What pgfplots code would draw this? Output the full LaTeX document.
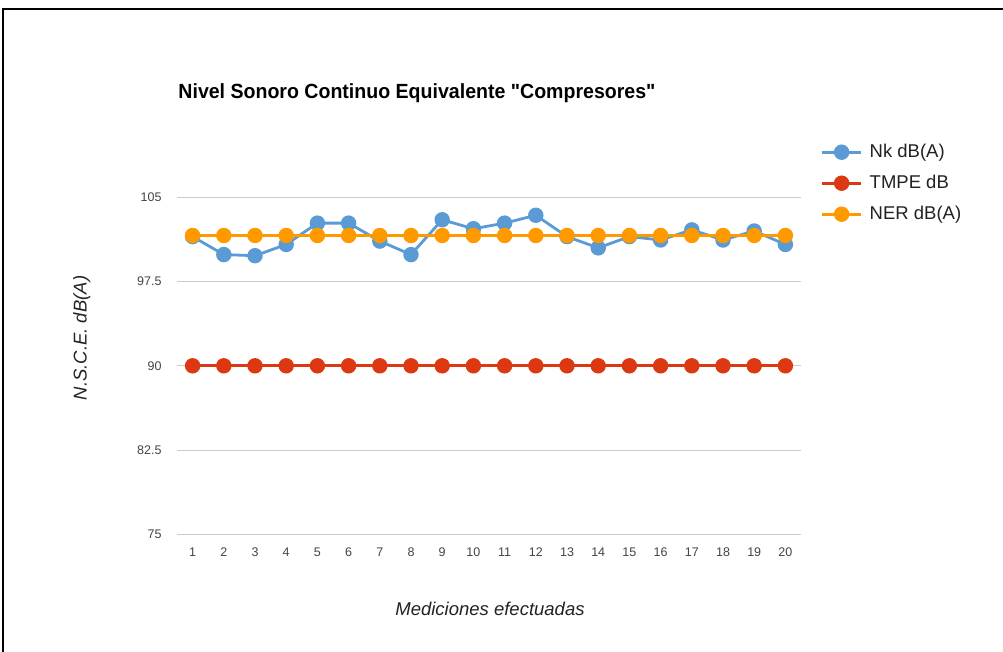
\documentclass[border=0pt]{standalone}
\usepackage{pgfplots}
\pgfplotsset{compat=1.18}
\usepackage{pgfplotstable}
\usepackage{fontspec}
\setmainfont{Liberation Sans}

\definecolor{nkblue}{HTML}{5B9BD5}
\definecolor{tmpered}{HTML}{DC3912}
\definecolor{nerorange}{HTML}{FF9900}
\definecolor{gridgrey}{HTML}{CCCCCC}
\definecolor{ticktext}{HTML}{444444}
\definecolor{labeltext}{HTML}{222222}

% straight double quote, set as a glyph so that no TeX ligature mapping curls it
\newcommand{\straightquote}{\XeTeXglyph\XeTeXglyphindex "quotedbl"\relax}

% Measurements: Nk, TMPE limit and NER reference, in dB(A)
\pgfplotstableread{
n  nk     tmpe  ner
1  101.5  90    101.6
2  99.9   90    101.6
3  99.8   90    101.6
4  100.8  90    101.6
5  102.7  90    101.6
6  102.7  90    101.6
7  101.1  90    101.6
8  99.9   90    101.6
9  103.0  90    101.6
10 102.2  90    101.6
11 102.7  90    101.6
12 103.4  90    101.6
13 101.5  90    101.6
14 100.5  90    101.6
15 101.5  90    101.6
16 101.2  90    101.6
17 102.1  90    101.6
18 101.2  90    101.6
19 102.0  90    101.6
20 100.8  90    101.6
}\datatable

\begin{document}
\begin{tikzpicture}[x=1pt,y=1pt]
\useasboundingbox (0,0) rectangle (1003,652);
\fill[white] (0,0) rectangle (1003,652);
\draw[line width=2pt] (3,0) -- (3,643) -- (1003,643);
\begin{axis}[
  at={(177pt,117.7pt)}, anchor=south west,
  scale only axis, width=624pt, height=337pt,
  xmin=0.5, xmax=20.5, ymin=75, ymax=105,
  xtick={1,...,20},
  xticklabels={1,2,3,4,5,6,7,8,9,10,11,12,13,14,15,16,17,18,19,20},
  ytick={75,82.5,90,97.5,105},
  yticklabels={75,82.5,90,97.5,105},
  /pgf/number format/assume math mode=true,
  axis line style={draw=none},
  major tick length=0pt,
  ymajorgrids,
  grid style={gridgrey, line width=1pt},
  clip=false,
  yticklabel style={anchor=east, inner sep=0pt, xshift=-15.3pt,
    font=\fontsize{12.5}{12.5}\selectfont, text=ticktext},
  xticklabel style={anchor=north, inner sep=0pt, yshift=-13.7pt,
    font=\fontsize{12.5}{12.5}\selectfont, text=ticktext},
  title={\resizebox{477pt}{\height}{\fontsize{20.5}{20.5}\selectfont\bfseries Nivel Sonoro Continuo Equivalente \straightquote Compresores\straightquote}},
  title style={at={(axis description cs:0.002,1.276)}, anchor=base west, inner sep=0pt},
  xlabel={Mediciones efectuadas},
  xlabel style={at={(axis description cs:0.5016,-0.2217)}, anchor=center,
    font=\fontsize{18.5}{18.5}\selectfont\itshape, text=labeltext},
  ylabel={N.S.C.E.\ dB(A)},
  ylabel style={at={(axis description cs:-0.1527,0.5825)}, anchor=center, rotate=0,
    font=\fontsize{18.5}{18.5}\selectfont\itshape, text=labeltext},
  legend style={at={(axis description cs:1.0316,1.1611)}, anchor=north west,
    draw=none, fill=none, inner sep=0pt, row sep=13pt, column sep=7.4pt,
    font=\fontsize{18.5}{18.5}\selectfont, text=labeltext,
    nodes={inner sep=0pt, text height=14pt, text depth=4pt}},
  legend cell align=left,
  legend image code/.code={\draw[mark repeat=2, mark phase=2, #1]
    plot coordinates {(0pt,0pt) (19.3pt,0pt) (38.6pt,0pt)};},
  every axis plot/.append style={line width=2.8pt, mark=*, mark size=6.3pt},
]
\addplot[nkblue, mark options={solid, fill=nkblue, draw=none}]
  table[x=n, y=nk]{\datatable};
\addlegendentry{Nk dB(A)}
\addplot[tmpered, mark options={solid, fill=tmpered, draw=none}]
  table[x=n, y=tmpe]{\datatable};
\addlegendentry{TMPE dB}
\addplot[nerorange, mark options={solid, fill=nerorange, draw=none}]
  table[x=n, y=ner]{\datatable};
\addlegendentry{NER dB(A)}
\end{axis}
\end{tikzpicture}
\end{document}
